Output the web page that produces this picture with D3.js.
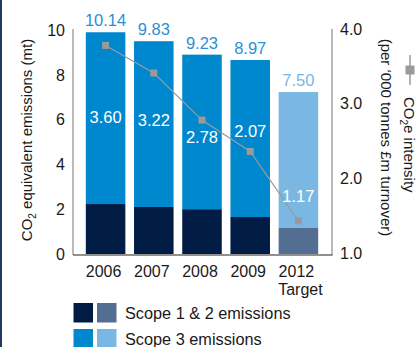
<!DOCTYPE html>
<html>
<head>
<meta charset="utf-8">
<script src="https://cdn.jsdelivr.net/npm/d3@7"></script>
<style>
  body { margin: 0; background: #fff; }
  svg { display: block; font-family: "Liberation Sans", Arial, sans-serif; }
</style>
</head>
<body>
<div id="chart"></div>
<script>
// data
const years = ["2006", "2007", "2008", "2009", "2012"];
const scope12 = [2.23, 2.10, 2.00, 1.65, 1.16];
const scope3 = [7.67, 7.40, 6.90, 7.01, 6.07];
const totalLabels = ["10.14", "9.83", "9.23", "8.97", "7.50"];
const intensity = [3.78, 3.41, 2.78, 2.36, 1.43];
const intensityLabels = ["3.60", "3.22", "2.78", "2.07", "1.17"];
const leftTicks = [0, 2, 4, 6, 8, 10];
const rightTicks = [1, 2, 3, 4];

// where the intensity labels sit inside the bars (left-axis units)
const innerLabelAt = [6.1, 6.0, 5.2, 5.5, 2.6];

const width = 418, height = 347;
const colScope12 = "#001c44", colScope3 = "#0088cf";
const colScope12T = "#536e92", colScope3T = "#7ab8e3";
const isTarget = i => i === years.length - 1;

const svg = d3.select("#chart").append("svg")
    .attr("width", width)
    .attr("height", height);

// left frame edge
svg.append("rect")
    .attr("x", 0).attr("y", 0)
    .attr("width", 2).attr("height", height)
    .attr("fill", "#1f3a5f");

const x = d3.scaleBand()
    .domain(years)
    .range([81, 323])
    .paddingInner(0.18)
    .paddingOuter(0.1);

const y = d3.scaleLinear().domain([0, 10]).range([254, 30]);
const y2 = d3.scaleLinear().domain([1, 4]).range([253, 29]);

// bars
const g = svg.append("g");
years.forEach((yr, i) => {
    g.append("rect")
        .attr("x", x(yr))
        .attr("width", x.bandwidth())
        .attr("y", y(scope12[i] + scope3[i]))
        .attr("height", y(scope12[i]) - y(scope12[i] + scope3[i]))
        .attr("fill", isTarget(i) ? colScope3T : colScope3);
    g.append("rect")
        .attr("x", x(yr))
        .attr("width", x.bandwidth())
        .attr("y", y(scope12[i]))
        .attr("height", y(0) - y(scope12[i]))
        .attr("fill", isTarget(i) ? colScope12T : colScope12);
});

// axes lines
svg.append("line")
    .attr("x1", 73).attr("x2", 73)
    .attr("y1", 29).attr("y2", 255)
    .attr("stroke", "#8c8c8c").attr("stroke-width", 1.2);
svg.append("line")
    .attr("x1", 332).attr("x2", 332)
    .attr("y1", 29).attr("y2", 255)
    .attr("stroke", "#8c8c8c").attr("stroke-width", 1.2);
svg.append("line")
    .attr("x1", 73).attr("x2", 332.5)
    .attr("y1", 255).attr("y2", 255)
    .attr("stroke", "#222").attr("stroke-width", 1.2);

// tick labels
svg.append("g").selectAll("text")
    .data(leftTicks)
    .enter().append("text")
    .attr("x", 65)
    .attr("y", d => y(d))
    .attr("dy", "0.36em")
    .attr("text-anchor", "end")
    .attr("font-size", 16)
    .attr("fill", "#1a1a1a")
    .text(d => d);

svg.append("g").selectAll("text")
    .data(rightTicks)
    .enter().append("text")
    .attr("x", 340)
    .attr("y", d => y2(d))
    .attr("dy", "0.36em")
    .attr("font-size", 16)
    .attr("fill", "#1a1a1a")
    .text(d => d3.format(".1f")(d));

// category labels
svg.append("g").selectAll("text")
    .data(years)
    .enter().append("text")
    .attr("x", d => x(d) + x.bandwidth() / 2 - 2)
    .attr("y", 277)
    .attr("text-anchor", "middle")
    .attr("font-size", 16)
    .attr("fill", "#1a1a1a")
    .text(d => d);
svg.append("text")
    .attr("x", x("2012") + x.bandwidth() / 2 + 2)
    .attr("y", 295)
    .attr("text-anchor", "middle")
    .attr("font-size", 16)
    .attr("fill", "#1a1a1a")
    .text("Target");

// totals on top
svg.append("g").selectAll("text")
    .data(totalLabels)
    .enter().append("text")
    .attr("x", (d, i) => x(years[i]) + x.bandwidth() / 2)
    .attr("y", (d, i) => y(scope12[i] + scope3[i]) - 6)
    .attr("text-anchor", "middle")
    .attr("font-size", 16.5)
    .attr("fill", (d, i) => isTarget(i) ? colScope3T : "#2b8fd6")
    .text(d => d);

// intensity line
const line = d3.line()
    .x((d, i) => x(years[i]) + x.bandwidth() / 2)
    .y(d => y2(d));

svg.append("path")
    .datum(intensity)
    .attr("d", line)
    .attr("fill", "none")
    .attr("stroke", "#9a9a9a")
    .attr("stroke-width", 1.2);

svg.append("g").selectAll("rect")
    .data(intensity)
    .enter().append("rect")
    .attr("x", (d, i) => x(years[i]) + x.bandwidth() / 2 - 3.5)
    .attr("y", d => y2(d) - 3.5)
    .attr("width", 7).attr("height", 7)
    .attr("fill", "#9a9a9a");

// intensity values inside bars
svg.append("g").selectAll("text")
    .data(intensityLabels)
    .enter().append("text")
    .attr("x", (d, i) => x(years[i]) + x.bandwidth() / 2)
    .attr("y", (d, i) => y(innerLabelAt[i]))
    .attr("dy", "0.36em")
    .attr("text-anchor", "middle")
    .attr("font-size", 16.5)
    .attr("fill", "#fff")
    .text(d => d);

// left axis title
const lt = svg.append("text")
    .attr("transform", "translate(32,140) rotate(-90)")
    .attr("text-anchor", "middle")
    .attr("font-size", 15)
    .attr("fill", "#1a1a1a");
lt.append("tspan").text("CO");
lt.append("tspan").attr("font-size", 10).attr("dy", 4).text("2");
lt.append("tspan").attr("dy", -4).text(" equivalent emissions (mt)");

// right axis title with line symbol
const rg = svg.append("g").attr("transform", "translate(404,0) rotate(90)");
rg.append("line")
    .attr("x1", 55).attr("x2", 85)
    .attr("y1", -6).attr("y2", -6)
    .attr("stroke", "#9a9a9a").attr("stroke-width", 1.5);
rg.append("rect")
    .attr("x", 65.5).attr("y", -10.5)
    .attr("width", 9).attr("height", 9)
    .attr("fill", "#9a9a9a");
const rt = rg.append("text")
    .attr("x", 97)
    .attr("y", 0)
    .attr("font-size", 15)
    .attr("fill", "#1a1a1a");
rt.append("tspan").text("CO");
rt.append("tspan").attr("font-size", 10).attr("dy", 4).text("2");
rt.append("tspan").attr("dy", -4).text("e intensity");
rg.append("text")
    .attr("x", 137.5)
    .attr("y", 23)
    .attr("text-anchor", "middle")
    .attr("font-size", 15)
    .attr("fill", "#1a1a1a")
    .text("(per \u2018000 tonnes \u00a3m turnover)");

// legend
const legend = svg.append("g");
const legendRows = [
    {label: "Scope 1 & 2 emissions", colors: [colScope12, colScope12T]},
    {label: "Scope 3 emissions", colors: [colScope3, colScope3T]}
];
legendRows.forEach((r, i) => {
    const yy = 303 + i * 26;
    r.colors.forEach((c, j) => {
        legend.append("rect")
            .attr("x", 73.5 + j * 23.5)
            .attr("y", yy)
            .attr("width", 19.5).attr("height", 19.5)
            .attr("fill", c);
    });
    legend.append("text")
        .attr("x", 125)
        .attr("y", yy + 15.5)
        .attr("font-size", 16.3)
        .attr("fill", "#1a1a1a")
        .text(r.label);
});
</script>
</body>
</html>
